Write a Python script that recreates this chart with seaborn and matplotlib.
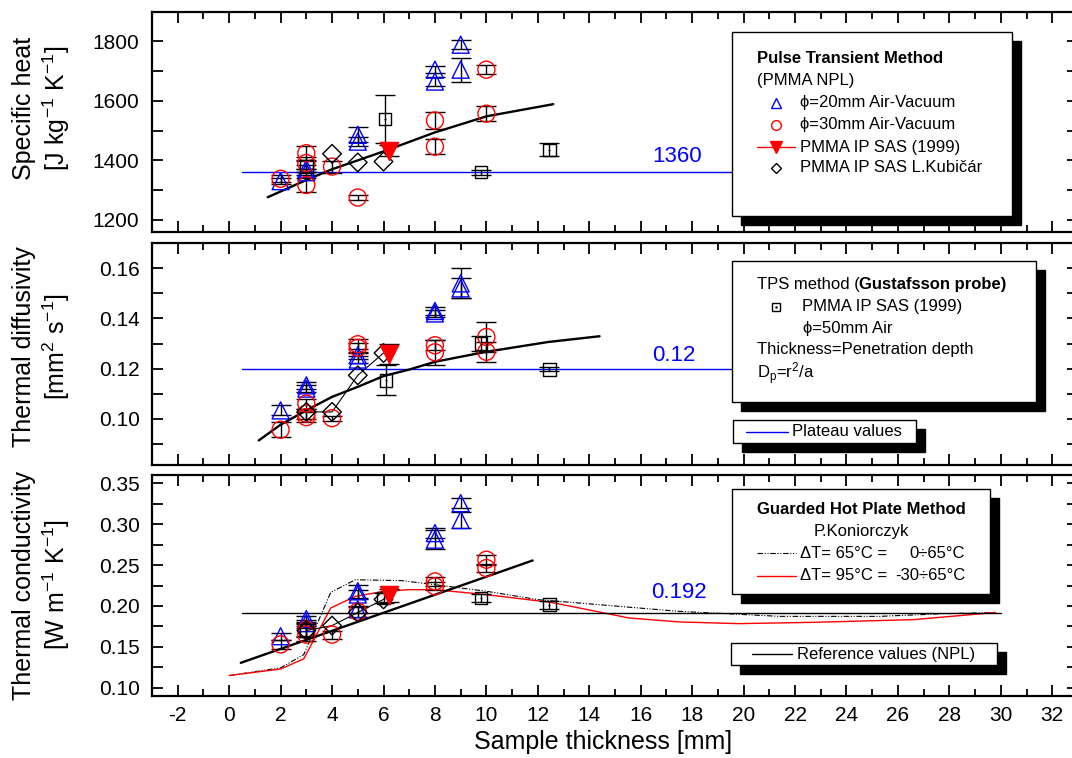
import numpy as np
import pandas as pd
import matplotlib
matplotlib.use("Agg")
import matplotlib.pyplot as plt
import seaborn as sns
from matplotlib.patches import Rectangle
from matplotlib.lines import Line2D
from matplotlib.ticker import MultipleLocator, FormatStrFormatter

# ---------------- data ----------------
# Specific heat panel
cp_tri_x = [2, 3, 3, 5, 5, 8, 8, 9, 9]
cp_tri_y = [1330, 1360, 1372, 1463, 1486, 1665, 1705, 1705, 1789]
cp_tri_e = [10, 10, 12, 15, 25, 15, 12, 40, 16]
cp_cir_x = [2, 3, 3, 3, 4, 5, 8, 8, 10, 10]
cp_cir_y = [1338, 1424, 1391, 1317, 1379, 1275, 1534, 1446, 1705, 1557]
cp_cir_e = [12, 25, 20, 25, 20, 10, 30, 25, 15, 25]
cp_sq_x = [3, 6.05, 9.8, 12.45]
cp_sq_y = [1380, 1540, 1360, 1435]
cp_sq_e = [20, 80, 8, 22]
cp_red_x = [6.2]
cp_red_y = [1432]
cp_red_e = [18]
cp_dia_x = [4, 5, 6]
cp_dia_y = [1422, 1393, 1396]
cp_fit_x = [1.5, 3, 4, 5, 6, 8, 10, 12.6]
cp_fit_y = [1276, 1334, 1370, 1400, 1430, 1494, 1548, 1589]
cp_plateau = 1360

# Thermal diffusivity panel
a_tri_x = [2, 3, 3, 5, 5, 8, 8, 9, 9]
a_tri_y = [0.1033, 0.1133, 0.1120, 0.1253, 0.1236, 0.1430, 0.1420, 0.1540, 0.1520]
a_tri_e = [0.002, 0.0015, 0.0015, 0.0015, 0.0015, 0.0015, 0.0015, 0.006, 0.004]
a_cir_x = [2, 3, 3, 3, 4, 5, 5, 8, 8, 10, 10]
a_cir_y = [0.0956, 0.1060, 0.1020, 0.1006, 0.1002, 0.1297, 0.1283, 0.1293, 0.1265, 0.1326, 0.1267]
a_cir_e = [0.003, 0.002, 0.002, 0.002, 0.001, 0.002, 0.002, 0.002, 0.005, 0.006, 0.004]
a_sq_x = [6.1, 9.8, 12.45]
a_sq_y = [0.1153, 0.1300, 0.1197]
a_sq_e = [0.006, 0.003, 0.0008]
a_red_x = [6.2]
a_red_y = [0.1257]
a_red_e = [0.004]
a_dia_x = [3, 4, 5, 6]
a_dia_y = [0.1027, 0.1027, 0.1173, 0.1262]
a_fit_x = [1.15, 2, 3, 4, 5, 6, 7, 8, 10, 12.4, 14.4]
a_fit_y = [0.0913, 0.0976, 0.1033, 0.1087, 0.1127, 0.1170, 0.1196, 0.1227, 0.1267, 0.1306, 0.1329]
a_plateau = 0.12

# Thermal conductivity panel
k_tri_x = [2, 3, 3, 5, 5, 5, 8, 8, 9, 9]
k_tri_y = [0.163, 0.184, 0.179, 0.218, 0.214, 0.196, 0.289, 0.281, 0.3256, 0.305]
k_tri_e = [0.004, 0.004, 0.004, 0.008, 0.006, 0.004, 0.006, 0.012, 0.006, 0.010]
k_cir_x = [2, 3, 3, 4, 5, 8, 8, 10, 10]
k_cir_y = [0.153, 0.171, 0.165, 0.165, 0.193, 0.230, 0.224, 0.2565, 0.2463]
k_cir_e = [0.005, 0.008, 0.008, 0.005, 0.006, 0.005, 0.005, 0.006, 0.005]
k_sq_x = [3, 6, 9.8, 12.45]
k_sq_y = [0.170, 0.210, 0.2097, 0.2016]
k_sq_e = [0.008, 0.006, 0.005, 0.005]
k_red_x = [6.2]
k_red_y = [0.213]
k_red_e = [0.008]
k_dia_x = [3, 4, 5, 6]
k_dia_y = [0.170, 0.176, 0.192, 0.208]
k_fit_x = [0.45, 11.8]
k_fit_y = [0.1305, 0.2556]
k_plateau = 0.192

ghp65_x = [0, 2, 2.9, 3.95, 4.9, 6.7, 8, 10, 12, 13.6, 17.5, 21.4, 25.3, 27.8, 29.8]
ghp65_y = [0.115, 0.1244, 0.1406, 0.2166, 0.232, 0.231, 0.226, 0.218, 0.2077, 0.2036,
           0.1934, 0.1873, 0.1873, 0.1906, 0.192]
ghp95_x = [0, 2, 2.9, 3.95, 4.9, 6, 7, 8, 10, 12.5, 13.6, 15.55, 17.5, 19.8, 22.7, 26.6, 29.8]
ghp95_y = [0.115, 0.123, 0.1354, 0.1976, 0.2117, 0.2178, 0.2199, 0.2199, 0.2138, 0.2044,
           0.1976, 0.1853, 0.1805, 0.1784, 0.1800, 0.1833, 0.192]

plateau_x = [0.5, 30]
x_ticks = list(range(-2, 33, 2))

# ---------------- style ----------------
sns.set_style("ticks")
plt.rcParams['font.family'] = ['Liberation Sans', 'DejaVu Sans']
plt.rcParams['mathtext.fontset'] = 'custom'
plt.rcParams['mathtext.rm'] = 'Liberation Sans'
plt.rcParams['mathtext.it'] = 'Liberation Sans:italic'
plt.rcParams['mathtext.bf'] = 'Liberation Sans:bold'
plt.rcParams['axes.unicode_minus'] = False
for key in ['text.color', 'axes.labelcolor', 'xtick.color', 'ytick.color',
            'axes.edgecolor', 'xtick.labelcolor', 'ytick.labelcolor']:
    plt.rcParams[key] = 'black'

BLUE = '#0000ff'
RED = '#ff0000'
W, H = 1072, 758


def fx(px):
    return px / W


def fy(py):
    return 1 - py / H


fig = plt.figure(figsize=(W / 100, H / 100), dpi=100)
fig.patch.set_facecolor('white')

ax_cp = fig.add_axes([fx(152), fy(231.7), 926 / W, 220 / H])
ax_a = fig.add_axes([fx(152), fy(465), 926 / W, 221.7 / H])
ax_k = fig.add_axes([fx(152), fy(696), 926 / W, 221 / H])


def errbars(ax, x, y, e):
    ax.errorbar(x, y, yerr=e, fmt='none', ecolor='black', elinewidth=1.0,
                capsize=7, capthick=1.0, zorder=3)


def points(ax, x, y, marker, size, fc, ec, lw=1.0):
    sns.scatterplot(x=x, y=y, ax=ax, marker=marker, s=size, facecolor=fc,
                    edgecolor=ec, linewidth=lw, zorder=4, legend=False)


def line(ax, x, y, color, lw, ls='-'):
    sns.lineplot(x=x, y=y, ax=ax, sort=False, estimator=None, errorbar=None,
                 color=color, linewidth=lw, linestyle=ls, zorder=2, legend=False)


def panel(ax, tri, cir, sq, red, dia, fit, plateau, plateau_color, dia_line):
    line(ax, plateau_x, [plateau, plateau], plateau_color, 1.0)
    line(ax, fit[0], fit[1], 'black', 1.7)
    if dia_line:
        line(ax, dia[0], dia[1], 'black', 0.8)
    errbars(ax, *tri)
    errbars(ax, *cir)
    errbars(ax, *sq)
    errbars(ax, *red)
    points(ax, tri[0], tri[1], '^', 150, 'none', BLUE)
    points(ax, cir[0], cir[1], 'o', 150, 'none', RED)
    points(ax, sq[0], sq[1], 's', 80, 'none', 'black')
    points(ax, sq[0], sq[1], '.', 4, 'black', 'black', 0.3)
    points(ax, dia[0], dia[1], 'D', 90, 'none', 'black')
    points(ax, red[0], red[1], 'v', 170, RED, RED)


panel(ax_cp, (cp_tri_x, cp_tri_y, cp_tri_e), (cp_cir_x, cp_cir_y, cp_cir_e),
      (cp_sq_x, cp_sq_y, cp_sq_e), (cp_red_x, cp_red_y, cp_red_e),
      (cp_dia_x, cp_dia_y), (cp_fit_x, cp_fit_y), cp_plateau, BLUE, False)
panel(ax_a, (a_tri_x, a_tri_y, a_tri_e), (a_cir_x, a_cir_y, a_cir_e),
      (a_sq_x, a_sq_y, a_sq_e), (a_red_x, a_red_y, a_red_e),
      (a_dia_x, a_dia_y), (a_fit_x, a_fit_y), a_plateau, BLUE, True)
line(ax_k, ghp65_x, ghp65_y, 'black', 0.8, (0, (5, 1.5, 1, 1.5, 1, 1.5)))
line(ax_k, ghp95_x, ghp95_y, RED, 1.0)
panel(ax_k, (k_tri_x, k_tri_y, k_tri_e), (k_cir_x, k_cir_y, k_cir_e),
      (k_sq_x, k_sq_y, k_sq_e), (k_red_x, k_red_y, k_red_e),
      (k_dia_x, k_dia_y), (k_fit_x, k_fit_y), k_plateau, 'black', True)

ax_cp.text(17.4, 1412, '1360', color=BLUE, fontsize=16, ha='center', va='center')
ax_a.text(17.3, 0.1253, '0.12', color=BLUE, fontsize=16, ha='center', va='center')
ax_k.text(17.5, 0.2166, '0.192', color=BLUE, fontsize=16, ha='center', va='center')

# axes cosmetics
limits = [(ax_cp, (1160, 1900), 200, 100, '%d'),
          (ax_a, (0.0815, 0.17), 0.02, 0.01, '%.2f'),
          (ax_k, (0.09, 0.36), 0.05, 0.025, '%.2f')]
for ax, ylim, maj, mnr, fmt in limits:
    ax.set_xlim(-3, 33)
    ax.set_ylim(*ylim)
    ax.set_xticks(x_ticks)
    ax.xaxis.set_minor_locator(MultipleLocator(1))
    ax.yaxis.set_major_locator(MultipleLocator(maj))
    ax.yaxis.set_minor_locator(MultipleLocator(mnr))
    ax.yaxis.set_major_formatter(FormatStrFormatter(fmt))
    ax.set_xlabel('')
    ax.set_ylabel('')
    for s in ax.spines.values():
        s.set_visible(True)
        s.set_linewidth(1.6)
        s.set_color('black')
    ax.tick_params(which='both', direction='in', top=True, right=True,
                   width=1.3, colors='black', labelcolor='black', labelsize=15)
    ax.tick_params(axis='x', which='major', length=8)
    ax.tick_params(axis='x', which='minor', length=5)
    ax.tick_params(axis='y', which='both', length=8, pad=9)
    ax.tick_params(axis='x', pad=7)
    ax.set_facecolor('white')
    ax.grid(False)
ax_cp.tick_params(labelbottom=False)
ax_a.tick_params(labelbottom=False)

fig.text(fx(603), fy(742), 'Sample thickness [mm]', fontsize=18, ha='center', va='center',
         color='black')
ylabels = [('Specific heat\n[J kg$^{\\mathregular{-1}}$ K$^{\\mathregular{-1}}$]', 108),
           ('Thermal diffusivity\n[mm$^{\\mathregular{2}}$ s$^{\\mathregular{-1}}$]', 347),
           ('Thermal conductivity\n[W m$^{\\mathregular{-1}}$ K$^{\\mathregular{-1}}$]', 585)]
for txt, py in ylabels:
    fig.text(fx(42), fy(py), txt, fontsize=18, rotation=90, ha='center', va='center',
             multialignment='center', linespacing=1.2, color='black')


# ---------------- legend boxes ----------------
def box(x0, y0, x1, y1, off=9):
    fig.add_artist(Rectangle((fx(x0 + off), fy(y1 + off)), (x1 - x0) / W, (y1 - y0) / H,
                             transform=fig.transFigure, facecolor='black',
                             edgecolor='black', zorder=10))
    fig.add_artist(Rectangle((fx(x0), fy(y1)), (x1 - x0) / W, (y1 - y0) / H,
                             transform=fig.transFigure, facecolor='white',
                             edgecolor='black', linewidth=1.0, zorder=11))


def ftxt(px, py, s, **kw):
    kw.setdefault('fontsize', 12)
    kw.setdefault('va', 'center')
    kw.setdefault('ha', 'left')
    kw.setdefault('color', 'black')
    fig.text(fx(px), fy(py), s, zorder=12, **kw)


def fmark(px, py, marker, ms, fc, ec):
    fig.add_artist(Line2D([fx(px)], [fy(py)], marker=marker, markersize=ms,
                          markerfacecolor=fc, markeredgecolor=ec, markeredgewidth=1.0,
                          linestyle='none', transform=fig.transFigure, zorder=12))


def fline(px0, px1, py, color, lw=1.0, ls='-'):
    fig.add_artist(Line2D([fx(px0), fx(px1)], [fy(py), fy(py)], color=color,
                          linewidth=lw, linestyle=ls, transform=fig.transFigure,
                          zorder=12))


# top legend
box(731.7, 31.7, 1011.7, 216)
ftxt(756.7, 58.3, 'Pulse Transient Method', fontweight='bold')
ftxt(756.7, 80.7, '(PMMA NPL)')
fmark(776, 103, '^', 7, 'none', BLUE)
ftxt(800, 103, 'ϕ=20mm Air-Vacuum')
fmark(776, 125, 'o', 7, 'none', RED)
ftxt(800, 125, 'ϕ=30mm Air-Vacuum')
fline(757, 795, 147.3, RED)
fmark(776, 147.3, 'v', 8, RED, RED)
ftxt(800, 147.3, 'PMMA IP SAS (1999)')
fmark(776, 167.7, 'D', 5.5, 'none', 'black')
ftxt(800, 167.7, 'PMMA IP SAS L.Kubičár')

# middle legend
box(731.7, 261, 1036, 401.7)
ftxt(756.7, 284.3, 'TPS method (')
ftxt(859, 284.3, 'Gustafsson probe)', fontweight='bold')
fmark(776, 306.7, 's', 5.5, 'none', 'black')
fmark(776, 306.7, '.', 1.5, 'black', 'black')
ftxt(801.7, 306.7, 'PMMA IP SAS (1999)')
ftxt(803, 328.3, 'ϕ=50mm Air')
ftxt(756.7, 350, 'Thickness=Penetration depth')
ftxt(756.7, 373.3, 'D$_{\\mathregular{p}}$=r$^{\\mathregular{2}}$/a')

box(732.7, 420, 916, 443.3)
fline(746, 788, 431.7, BLUE)
ftxt(791.7, 431.7, 'Plateau values')

# bottom legend
box(731.7, 489.3, 990, 594)
ftxt(861.7, 509.3, 'Guarded Hot Plate Method', fontweight='bold', ha='center')
ftxt(861.7, 531.7, 'P.Koniorczyk', ha='center')
fline(756.7, 796, 553.3, 'black', 0.8, (0, (5, 1.5, 1, 1.5, 1, 1.5)))
ftxt(800, 553.3, 'ΔT= 65°C =')
ftxt(965, 553.3, '0÷65°C', ha='right')
fline(756.7, 796, 576, RED)
ftxt(800, 576, 'ΔT= 95°C =')
ftxt(965, 576, '-30÷65°C', ha='right')

box(731, 642.7, 997.3, 665)
fline(751.7, 791.7, 654, 'black')
ftxt(796.7, 654, 'Reference values (NPL)')

fig.savefig('out.png', dpi=100)
